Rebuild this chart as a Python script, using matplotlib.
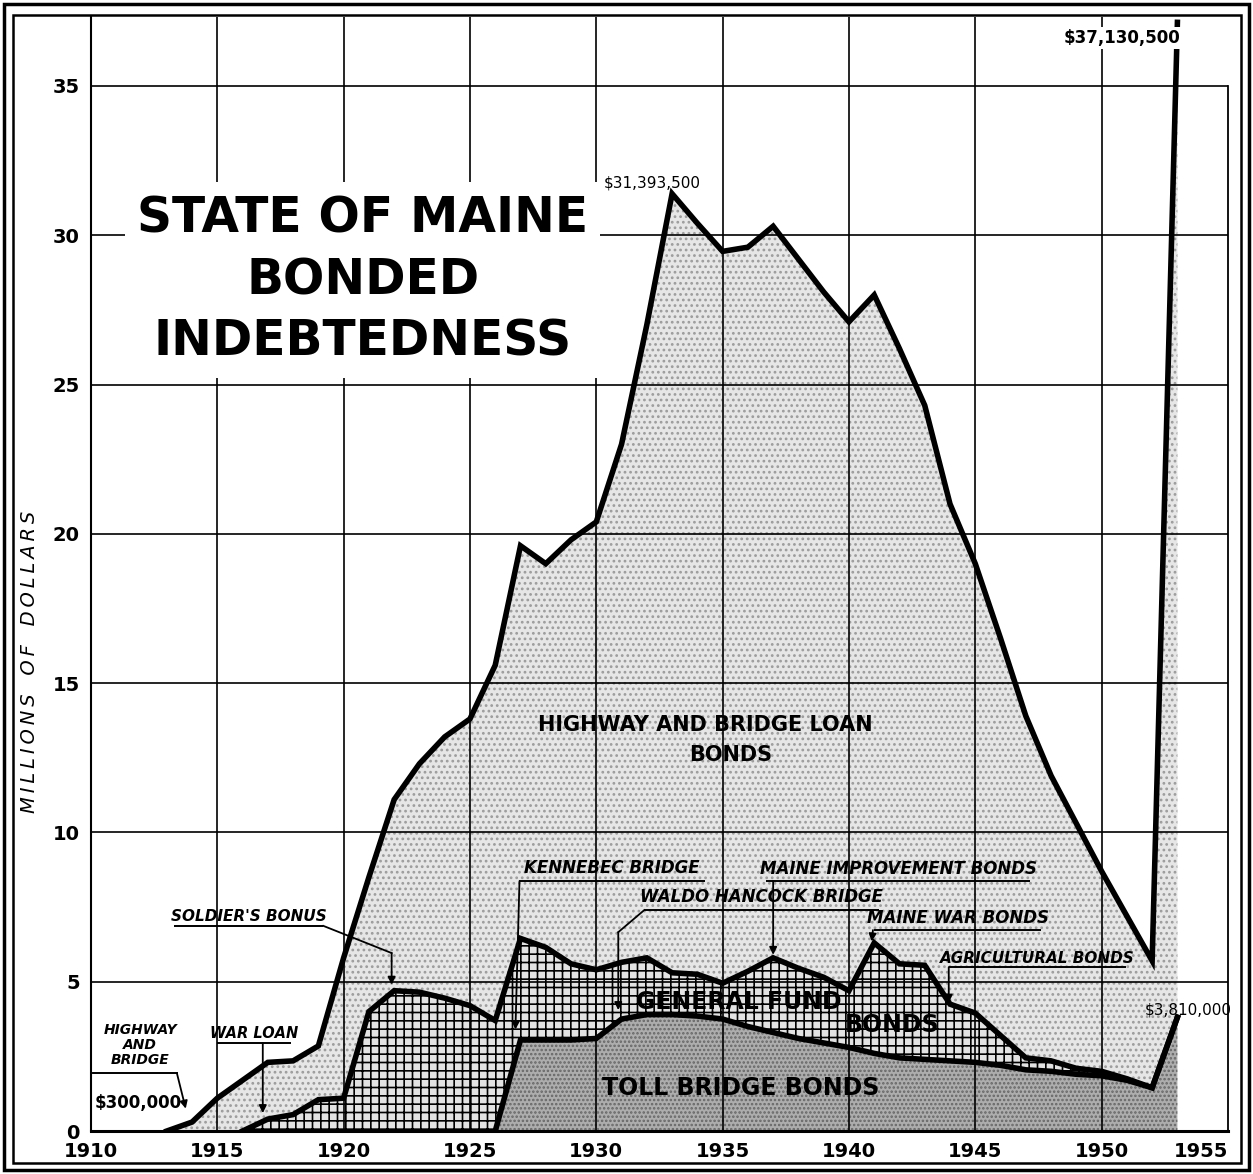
import numpy as np
import matplotlib.pyplot as plt
from matplotlib.patches import Rectangle

# fiscal years shown on the chart
years = np.arange(1913, 1954)

# millions of dollars (stack order: toll, general, highway)
toll_bridge_bonds = [0, 0, 0, 0, 0, 0, 0, 0, 0, 0, 0, 0, 0, 0,
                     3.05, 3.05, 3.05, 3.1, 3.75, 3.9, 3.9, 3.85, 3.75, 3.5,
                     3.3, 3.1, 2.95, 2.8, 2.6, 2.45, 2.4, 2.35, 2.3, 2.2,
                     2.05, 2.0, 1.9, 1.85, 1.7, 1.45, 3.81]
general_fund_bonds = [0, 0, 0, 0, 0.4, 0.55, 1.05, 1.1, 4.0, 4.7, 4.65, 4.45,
                      4.2, 3.7, 3.4, 3.1, 2.55, 2.3, 1.9, 1.9, 1.4, 1.4, 1.2,
                      1.85, 2.5, 2.35, 2.2, 1.9, 3.7, 3.15, 3.15, 1.9, 1.65,
                      1.0, 0.4, 0.35, 0.2, 0.15, 0.05, 0, 0]
highway_bridge_bonds = [0, 0.3, 1.1, 1.7, 1.9, 1.8, 1.8, 4.7, 4.5, 6.4, 7.65,
                        8.75, 9.6, 11.9, 13.15, 12.85, 14.2, 15.0, 17.35, 21.2,
                        26.09, 25.15, 24.51, 24.25, 24.5, 23.75, 22.95, 22.4,
                        21.7, 20.6, 18.75, 16.75, 15.05, 13.3, 11.45, 9.55,
                        8.2, 6.7, 5.45, 4.25, 33.32]

x_ticks = np.arange(1910, 1956, 5)
y_ticks = np.arange(0, 36, 5)

FONT = 'DejaVu Sans'


def callout(ax, text, x, y, x0, x1, y_line, size=12):
    """Italic bold label with an underline, like the hand-lettered notes."""
    ax.text(x, y, text, ha='center', va='center', fontsize=size,
            fontweight='bold', fontstyle='italic', family=FONT, zorder=6)
    ax.plot([x0, x1], [y_line, y_line], color='black', lw=1.4, zorder=6,
            solid_capstyle='butt')


def leader(ax, pts):
    """Polyline whose last segment ends in an arrow head."""
    pts = np.asarray(pts, dtype=float)
    if len(pts) > 2:
        ax.plot(pts[:-1, 0], pts[:-1, 1], color='black', lw=1.3, zorder=6)
    ax.annotate('', xy=pts[-1], xytext=pts[-2],
                arrowprops=dict(arrowstyle='-|>', color='black', lw=1.3,
                                mutation_scale=11, shrinkA=0, shrinkB=0),
                zorder=6)


if __name__ == "__main__":
    plt.rcParams['hatch.linewidth'] = 1.2

    fig = plt.figure(figsize=(12.53, 11.74), dpi=100)
    ax = fig.add_axes([0.0726, 0.0366, 0.9074, 0.9487])

    toll = np.array(toll_bridge_bonds)
    mid = toll + np.array(general_fund_bonds)
    top = mid + np.array(highway_bridge_bonds)

    # filled bands
    ax.fill_between(years, mid, top, facecolor='#e6e6e6', hatch='...',
                    edgecolor='#9c9c9c', linewidth=0, zorder=1)
    ax.fill_between(years, toll, mid, facecolor='#e2e2e2', hatch='++',
                    edgecolor='black', linewidth=0, zorder=1)
    ax.fill_between(years, 0, toll, facecolor='#adadad', hatch='....',
                    edgecolor='#666666', linewidth=0, zorder=1)

    # grid drawn over the shading
    for v in y_ticks[1:]:
        ax.plot([1910, 1955], [v, v], color='black', lw=1.2, zorder=2)
    for yr in x_ticks[1:-1]:
        ax.axvline(yr, color='black', lw=1.2, zorder=2)

    # boundary lines
    ax.plot(years, top, color='black', lw=4, zorder=3, solid_joinstyle='miter')
    m = years >= 1916
    ax.plot(years[m], mid[m], color='black', lw=4, zorder=3,
            solid_joinstyle='miter')
    t = years >= 1926
    ax.plot(years[t], toll[t], color='black', lw=4, zorder=3,
            solid_joinstyle='miter')

    ax.set_xlim(1910, 1955)
    ax.set_ylim(0, 37.3)
    ax.set_xticks(x_ticks)
    ax.set_yticks(y_ticks)
    ax.tick_params(length=0, labelsize=14, pad=8)
    for lab in ax.get_xticklabels() + ax.get_yticklabels():
        lab.set_fontweight('bold')
        lab.set_family(FONT)
    ax.get_xticklabels()[-1].set_horizontalalignment('right')
    ax.spines['top'].set_visible(False)
    ax.spines['right'].set_bounds(0, 35)
    ax.spines['right'].set_linewidth(1.3)
    ax.spines['left'].set_linewidth(1.5)
    ax.spines['bottom'].set_linewidth(2.2)

    ax.set_ylabel('M\u2009I\u2009L\u2009L\u2009I\u2009O\u2009N\u2009S   '
                  'O\u2009F   D\u2009O\u2009L\u2009L\u2009A\u2009R\u2009S',
                  fontsize=14, fontstyle='italic', family=FONT)
    ax.yaxis.set_label_coords(-0.046, 0.421)

    # title block with a white ground over the grid
    ax.text(1920.75, 28.5, 'STATE OF MAINE\nBONDED\nINDEBTEDNESS',
            ha='center', va='center', fontsize=35, fontweight='bold',
            family=FONT, linespacing=1.36, zorder=5,
            bbox=dict(boxstyle='square,pad=0.25', facecolor='white',
                      edgecolor='none'))

    # amount labels
    ax.text(1930.3, 31.75, r'\$31,393,500', ha='left', va='center',
            fontsize=11, family=FONT, zorder=6)
    ax.text(1953.1, 36.6, r'\$37,130,500', ha='right', va='center',
            fontsize=12, fontweight='bold', family=FONT, zorder=6,
            bbox=dict(boxstyle='square,pad=0.1', facecolor='white',
                      edgecolor='none'))
    ax.text(1951.7, 4.05, r'\$3,810,000', ha='left', va='center',
            fontsize=11, family=FONT, zorder=6)
    ax.text(1910.15, 0.94, r'\$300,000', ha='left', va='center',
            fontsize=12, fontweight='bold', family=FONT, zorder=6)

    # band names
    ax.text(1934.3, 13.6, 'HIGHWAY AND BRIDGE LOAN', ha='center',
            va='center', fontsize=15, fontweight='bold', family=FONT, zorder=6)
    ax.text(1935.3, 12.6, 'BONDS', ha='center', va='center', fontsize=15,
            fontweight='bold', family=FONT, zorder=6)
    ax.text(1935.65, 4.32, 'GENERAL FUND', ha='center', va='center',
            fontsize=17, fontweight='bold', family=FONT, zorder=6)
    ax.text(1941.7, 3.55, 'BONDS', ha='center', va='center', fontsize=17,
            fontweight='bold', family=FONT, zorder=6)
    ax.text(1935.7, 1.44, 'TOLL BRIDGE BONDS', ha='center', va='center',
            fontsize=17, fontweight='bold', family=FONT, zorder=6)

    # hand-lettered notes and leaders
    ax.text(1911.95, 2.88, 'HIGHWAY\nAND\nBRIDGE', ha='center', va='center',
            fontsize=10, fontweight='bold', fontstyle='italic', family=FONT,
            linespacing=1.05, zorder=6)
    ax.plot([1910.1, 1913.4], [1.94, 1.94], color='black', lw=1.4, zorder=6)
    leader(ax, [(1913.4, 1.94), (1913.75, 0.75)])

    callout(ax, 'WAR LOAN', 1916.45, 3.28, 1914.98, 1917.9, 2.95, size=10.5)
    leader(ax, [(1916.8, 2.95), (1916.8, 0.6)])

    callout(ax, "SOLDIER'S BONUS", 1916.25, 7.17, 1913.3, 1919.2, 6.87,
            size=11)
    leader(ax, [(1919.2, 6.87), (1921.9, 5.96), (1921.9, 4.9)])

    callout(ax, 'KENNEBEC BRIDGE', 1930.6, 8.81, 1926.96, 1934.3, 8.37)
    leader(ax, [(1926.96, 8.37), (1926.8, 3.4)])

    callout(ax, 'WALDO HANCOCK BRIDGE', 1936.55, 7.84, 1931.9, 1941.2, 7.4)
    leader(ax, [(1931.9, 7.4), (1930.87, 6.66), (1930.87, 4.05)])

    callout(ax, 'MAINE IMPROVEMENT BONDS', 1941.95, 8.77, 1936.7, 1947.15,
            8.37)
    leader(ax, [(1937.0, 8.37), (1937.0, 5.9)])

    callout(ax, 'MAINE WAR BONDS', 1944.3, 7.13, 1941.0, 1947.6, 6.73)
    leader(ax, [(1940.95, 6.73), (1940.9, 6.35)])

    callout(ax, 'AGRICULTURAL BONDS', 1947.45, 5.79, 1943.95, 1950.95, 5.49,
            size=11)
    leader(ax, [(1943.95, 5.49), (1943.95, 4.3)])

    # double frame round the whole sheet
    fig.patches.append(Rectangle((0.003, 0.003), 0.994, 0.994,
                                 transform=fig.transFigure, fill=False,
                                 lw=2.5, edgecolor='black'))
    fig.patches.append(Rectangle((0.0105, 0.0095), 0.98, 0.978,
                                 transform=fig.transFigure, fill=False,
                                 lw=1.8, edgecolor='black'))

    fig.savefig('out.png', dpi=100)
